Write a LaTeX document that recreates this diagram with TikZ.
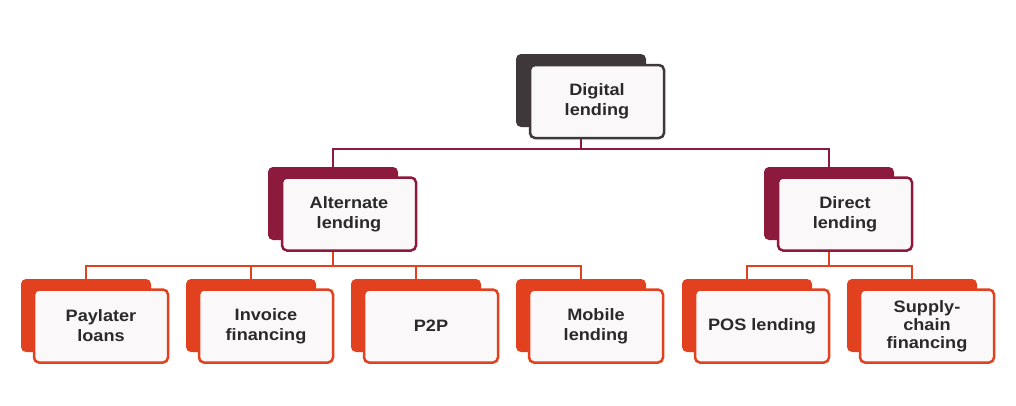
\documentclass[tikz,border=0pt]{standalone}
\usepackage{fontspec}
\setmainfont{Liberation Sans}[FakeStretch=1.1]
\definecolor{cdark}{HTML}{3E383B}
\definecolor{cmaroon}{HTML}{8C1A3C}
\definecolor{cred}{HTML}{E2411F}
\definecolor{cfill}{HTML}{FAF8F8}
\definecolor{ctext}{HTML}{2A2A2A}
\begin{document}
\begin{tikzpicture}[x=1pt,y=-1pt,
  backbox/.style={fill=#1, rounded corners=5pt, minimum width=130pt, minimum height=73pt, inner sep=0pt},
  frontbox/.style={draw=#1, fill=cfill, line width=2.5pt, rounded corners=5pt, minimum width=134pt, minimum height=73pt, inner sep=0pt, align=center, text=ctext, font=\bfseries\fontsize{16.5}{20}\selectfont},
  conn/.style={draw=#1, line width=2.5pt},
]
\useasboundingbox[fill=white] (0,0) rectangle (1016,405);
\coordinate (bus1) at (0,149);
\coordinate (bus2) at (0,266);

% back boxes
\node[backbox=cdark] (dlb) at (581,90.5) {};
\node[backbox=cmaroon] (alb) at (333,203.5) {};
\node[backbox=cmaroon] (drb) at (829,203.5) {};
\node[backbox=cred] (plb) at (86,315.5) {};
\node[backbox=cred] (ifb) at (251,315.5) {};
\node[backbox=cred] (ppb) at (416,315.5) {};
\node[backbox=cred] (mlb) at (581,315.5) {};
\node[backbox=cred] (psb) at (747,315.5) {};
\node[backbox=cred] (scb) at (912,315.5) {};

% front boxes
\node[frontbox=cdark] (dl) at (597,101.5) {Digital\\lending};
\node[frontbox=cmaroon] (al) at (349,214) {Alternate\\lending};
\node[frontbox=cmaroon] (dr) at (845,214) {Direct\\lending};
\node[frontbox=cred] (pl) at (101,326) {Paylater\\loans};
\node[frontbox=cred] (if) at (266,326) {Invoice\\financing};
\node[frontbox=cred] (pp) at (431,326) {P2P};
\node[frontbox=cred] (ml) at (596,326) {Mobile\\lending};
\node[frontbox=cred] (ps) at (762,326) {POS lending};
\node[frontbox=cred, font=\bfseries\fontsize{16.5}{18}\selectfont] (sc) at (927,326) {Supply-\\chain\\financing};

% connectors level 1
\draw[conn=cmaroon] (dlb.center |- dl.south) -- (dlb.center |- bus1);
\draw[conn=cmaroon] (alb.north) -- (alb.center |- bus1) -- (drb.center |- bus1) -- (drb.north);

% connectors level 2
\draw[conn=cred] (alb.center |- al.south) -- (alb.center |- bus2);
\draw[conn=cred] (plb.north) -- (plb.center |- bus2) -- (mlb.center |- bus2) -- (mlb.north);
\draw[conn=cred] (ifb.center |- bus2) -- (ifb.north);
\draw[conn=cred] (ppb.center |- bus2) -- (ppb.north);
\draw[conn=cred] (drb.center |- dr.south) -- (drb.center |- bus2);
\draw[conn=cred] (psb.north) -- (psb.center |- bus2) -- (scb.center |- bus2) -- (scb.north);
\end{tikzpicture}
\end{document}
